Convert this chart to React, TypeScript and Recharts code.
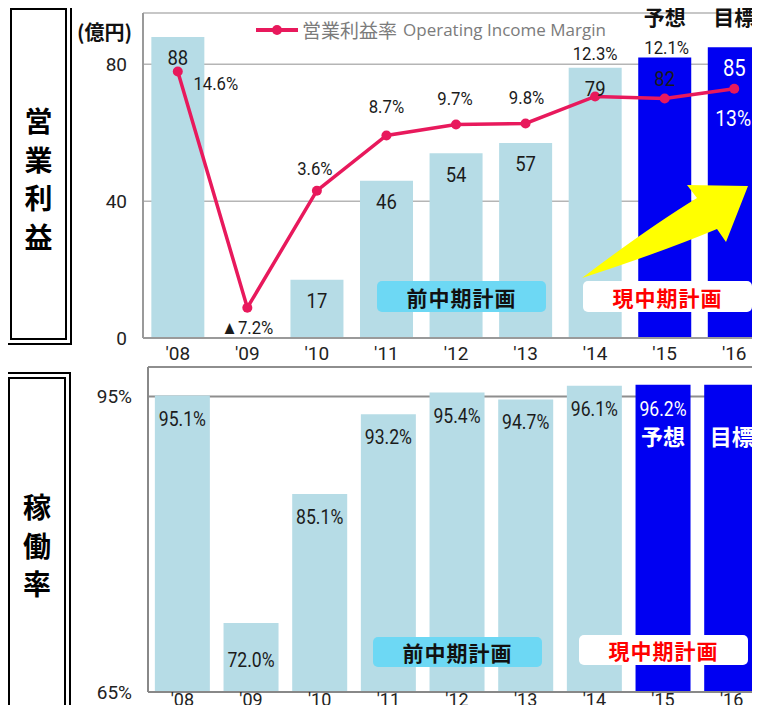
import React from "react";
import {
	ComposedChart,
	BarChart,
	Bar,
	Line,
	Cell,
	XAxis,
	YAxis,
	CartesianGrid,
	Legend,
	LabelList,
} from "recharts";

// 年度ラベル
const years = ["'08", "'09", "'10", "'11", "'12", "'13", "'14", "'15", "'16"];
// 営業利益（億円）— '09は赤字のため棒なし
const operatingProfit = [88, null, 17, 46, 54, 57, 79, 82, 85];
// 営業利益率（%）
const incomeMargin = [14.6, -7.2, 3.6, 8.7, 9.7, 9.8, 12.3, 12.1, 13];
// 稼働率（%）
const utilizationRate = [95.1, 72.0, 85.1, 93.2, 95.4, 94.7, 96.1, 96.2, 96.2];
// 予想・目標
const planTags = ["", "", "", "", "", "", "", "予想", "目標"];
const profitTicks = [0, 40, 80];
const rateTicks = [65, 95];

const NUM_FONT = "Roboto, 'Liberation Sans', sans-serif";
const JP_FONT = "'Noto Sans CJK JP', sans-serif";
const LIGHT = "#b6dce6";
const BLUE = "#0000f2";
const PINK = "#e8195c";
const AXIS = "#9a9a9a";

// 利益率ラベルの位置（点からのずれ）
const marginLabelShift = [
	[38, 12], [0, 20], [-2, -22], [0, -29], [-1, -26], [1, -26], [0, -43], [2, -51], [-1, 29],
];
const rateLabelDrop = [23, 37, 23, 23, 23, 23, 23, 24, 24];

const profitRows = years.map((year, i) => ({
	year,
	profit: operatingProfit[i],
	margin: incomeMargin[i],
}));
const rateRows = years.map((year, i) => ({ year, rate: utilizationRate[i] }));

const isPlan = (i: number) => planTags[i] !== "";
const box = (p: any) => p.viewBox ?? p;
// 元図の数字は少し細身の書体なので横方向を詰める
const narrow: React.CSSProperties = {
	transform: "scaleX(0.88)",
	transformBox: "fill-box",
	transformOrigin: "center",
};

const ProfitLabel = (props: any) => {
	const { value, index } = props;
	if (value == null) return null;
	const vb = box(props);
	const plan = isPlan(index);
	return (
		<text
			x={vb.x + vb.width / 2}
			y={vb.y + 21}
			dy="0.35em"
			textAnchor="middle"
			fill={plan ? "#fff" : "#1b1b1b"}
			fontSize={plan ? 23 : 21}
			fontFamily={NUM_FONT}
			style={narrow}
		>
			{value}
		</text>
	);
};

const MarginLabel = (props: any) => {
	const { value, index } = props;
	const vb = box(props);
	const [dx, dy] = marginLabelShift[index];
	const last = index === incomeMargin.length - 1;
	const text = value < 0 ? `▲${Math.abs(value)}%` : `${value}%`;
	return (
		<text
			x={vb.x + dx}
			y={vb.y + dy}
			dy="0.35em"
			textAnchor="middle"
			fill={last ? "#fff" : "#1b1b1b"}
			fontSize={last ? 22 : 19}
			fontFamily={NUM_FONT}
			style={narrow}
		>
			{text}
		</text>
	);
};

const RateLabel = (props: any) => {
	const { value, index } = props;
	const vb = box(props);
	const cx = vb.x + vb.width / 2;
	const plan = isPlan(index);
	const showValue = planTags[index] !== "目標";
	return (
		<g>
			{showValue && (
				<text
					x={cx}
					y={vb.y + rateLabelDrop[index]}
					dy="0.35em"
					textAnchor="middle"
					fill={plan ? "#fff" : "#1b1b1b"}
					fontSize={20}
					fontFamily={NUM_FONT}
					style={narrow}
				>
					{value.toFixed(1)}%
				</text>
			)}
			{plan && (
				<text
					x={cx}
					y={vb.y + 53}
					dy="0.35em"
					textAnchor="middle"
					fill="#fff"
					fontSize={22}
					fontWeight="bold"
					fontFamily={JP_FONT}
				>
					{planTags[index]}
				</text>
			)}
		</g>
	);
};

// 上側の軸に「予想」「目標」を載せる
const PlanTick = ({ x, index }: any) => {
	const tag = planTags[index];
	if (!tag) return null;
	return (
		<text x={x} y={25} textAnchor="middle" fill="#111" fontSize={21} fontWeight="bold" fontFamily={JP_FONT}>
			{tag}
		</text>
	);
};

const MarginLegend = () => (
	<div style={{ display: "flex", alignItems: "center" }}>
		<svg width={42} height={12}>
			<line x1={0} y1={6} x2={42} y2={6} stroke={PINK} strokeWidth={4} />
			<circle cx={21} cy={6} r={5} fill={PINK} />
		</svg>
		<span style={{ marginLeft: 4, color: "#7b7b7b", fontSize: 19, fontFamily: JP_FONT, whiteSpace: "nowrap" }}>
			営業利益率
		</span>
		<span style={{ marginLeft: 6, color: "#7b7b7b", fontSize: 17, fontFamily: "'Open Sans', sans-serif", whiteSpace: "nowrap" }}>
			Operating Income Margin
		</span>
	</div>
);

const tickStyle = { fill: "#222", fontSize: 19, fontFamily: NUM_FONT };

const SideBox = ({ top, left, width, height, text, shift }: any) => (
	<div
		style={{
			position: "absolute",
			top,
			left,
			width,
			height,
			boxSizing: "border-box",
			border: "7px double #000",
			display: "flex",
			alignItems: "center",
			justifyContent: "center",
		}}
	>
		<div style={{ fontFamily: JP_FONT, fontWeight: "bold", fontSize: 28, lineHeight: "38.5px", textAlign: "center", marginTop: shift }}>
			{text.split("").map((c: string, i: number) => (
				<div key={i}>{c}</div>
			))}
		</div>
	</div>
);

const PlanBox = ({ top, left, width, height, bg, color, text }: any) => (
	<div
		style={{
			position: "absolute",
			top,
			left,
			width,
			height,
			background: bg,
			borderRadius: 5,
			display: "flex",
			alignItems: "center",
			justifyContent: "center",
			color,
			fontFamily: JP_FONT,
			fontWeight: "bold",
			fontSize: 21,
			letterSpacing: 1,
		}}
	>
		{text}
	</div>
);

export default function App() {
	return (
		<div style={{ position: "relative", width: 760, height: 713, margin: -8, overflow: "hidden", background: "#fff" }}>
			<SideBox top={3} left={5} width={67} height={342} text="営業利益" shift={8} />
			<SideBox top={372} left={3} width={68} height={340} text="稼働率" shift={6} />

			<div style={{ position: "absolute", top: 17, left: 77, fontFamily: JP_FONT, fontWeight: "bold", fontSize: 20, color: "#111" }}>
				(億円)
			</div>

			<div style={{ position: "absolute", top: 0, left: 0 }}>
				<ComposedChart width={769} height={368} data={profitRows} margin={{ top: 0, right: 0, left: 0, bottom: 0 }} barCategoryGap="12%">
					<CartesianGrid vertical={false} stroke="#b5b5b5" strokeWidth={1.5} />
					<XAxis
						xAxisId="plan"
						orientation="top"
						dataKey="year"
						height={13}
						axisLine={false}
						tickLine={false}
						tickSize={0}
						tickMargin={0}
						interval={0}
						tick={<PlanTick />}
					/>
					<XAxis dataKey="year" height={30} interval={0} tickLine={false} tickMargin={3} axisLine={{ stroke: AXIS, strokeWidth: 2 }} tick={tickStyle} />
					<YAxis width={143} domain={[0, 95]} ticks={profitTicks} tickLine={false} tickMargin={10} axisLine={{ stroke: AXIS, strokeWidth: 2 }} tick={tickStyle} />
					<YAxis yAxisId="margin" orientation="right" hide domain={[-10, 20]} />
					<Legend
						layout="horizontal"
						verticalAlign="middle"
						align="center"
						content={<MarginLegend />}
						wrapperStyle={{ top: 16, left: 256, width: "auto" }}
					/>
					<Bar dataKey="profit" isAnimationActive={false}>
						{profitRows.map((_, i) => (
							<Cell key={i} fill={isPlan(i) ? BLUE : LIGHT} />
						))}
						<LabelList dataKey="profit" content={<ProfitLabel />} />
					</Bar>
					<Line
						dataKey="margin"
						yAxisId="margin"
						stroke={PINK}
						strokeWidth={3.5}
						dot={{ r: 5, fill: PINK, stroke: "none" }}
						isAnimationActive={false}
					>
						<LabelList dataKey="margin" content={<MarginLabel />} />
					</Line>
				</ComposedChart>
			</div>

			<div style={{ position: "absolute", top: 355, left: 0 }}>
				<BarChart width={766} height={367} data={rateRows} margin={{ top: 12, right: 0, left: 0, bottom: 0 }} barCategoryGap="10%">
					<CartesianGrid vertical={false} stroke="#8e8e8e" strokeWidth={2} />
					<XAxis
						dataKey="year"
						height={30}
						interval={0}
						tickLine={false}
						tickMargin={-5}
						axisLine={{ stroke: "#888", strokeWidth: 2 }}
						tick={{ ...tickStyle, fontSize: 18 }}
					/>
					<YAxis
						width={148}
						domain={[65, 98]}
						ticks={rateTicks}
						tickFormatter={(v) => `${v}%`}
						tickLine={false}
						tickMargin={10}
						axisLine={{ stroke: "#888", strokeWidth: 2 }}
						tick={tickStyle}
					/>
					<Bar dataKey="rate" isAnimationActive={false}>
						{rateRows.map((_, i) => (
							<Cell key={i} fill={isPlan(i) ? BLUE : LIGHT} />
						))}
						<LabelList dataKey="rate" content={<RateLabel />} />
					</Bar>
				</BarChart>
			</div>

			<PlanBox top={281} left={377} width={169} height={31} bg="#6dd8f4" color="#111" text="前中期計画" />
			<PlanBox top={637} left={373} width={169} height={30} bg="#6dd8f4" color="#111" text="前中期計画" />
			<PlanBox top={635} left={579} width={169} height={30} bg="#fff" color="#f00" text="現中期計画" />

			<svg width={760} height={713} style={{ position: "absolute", top: 0, left: 0, pointerEvents: "none" }}>
				<path d="M582,278 Q648,228 697,198 L687,185 L748,186 L726,242 L717,229 Q662,252 582,278 Z" fill="#ffff00" />
			</svg>
			<PlanBox top={281} left={583} width={169} height={31} bg="#fff" color="#f00" text="現中期計画" />
		</div>
	);
}
